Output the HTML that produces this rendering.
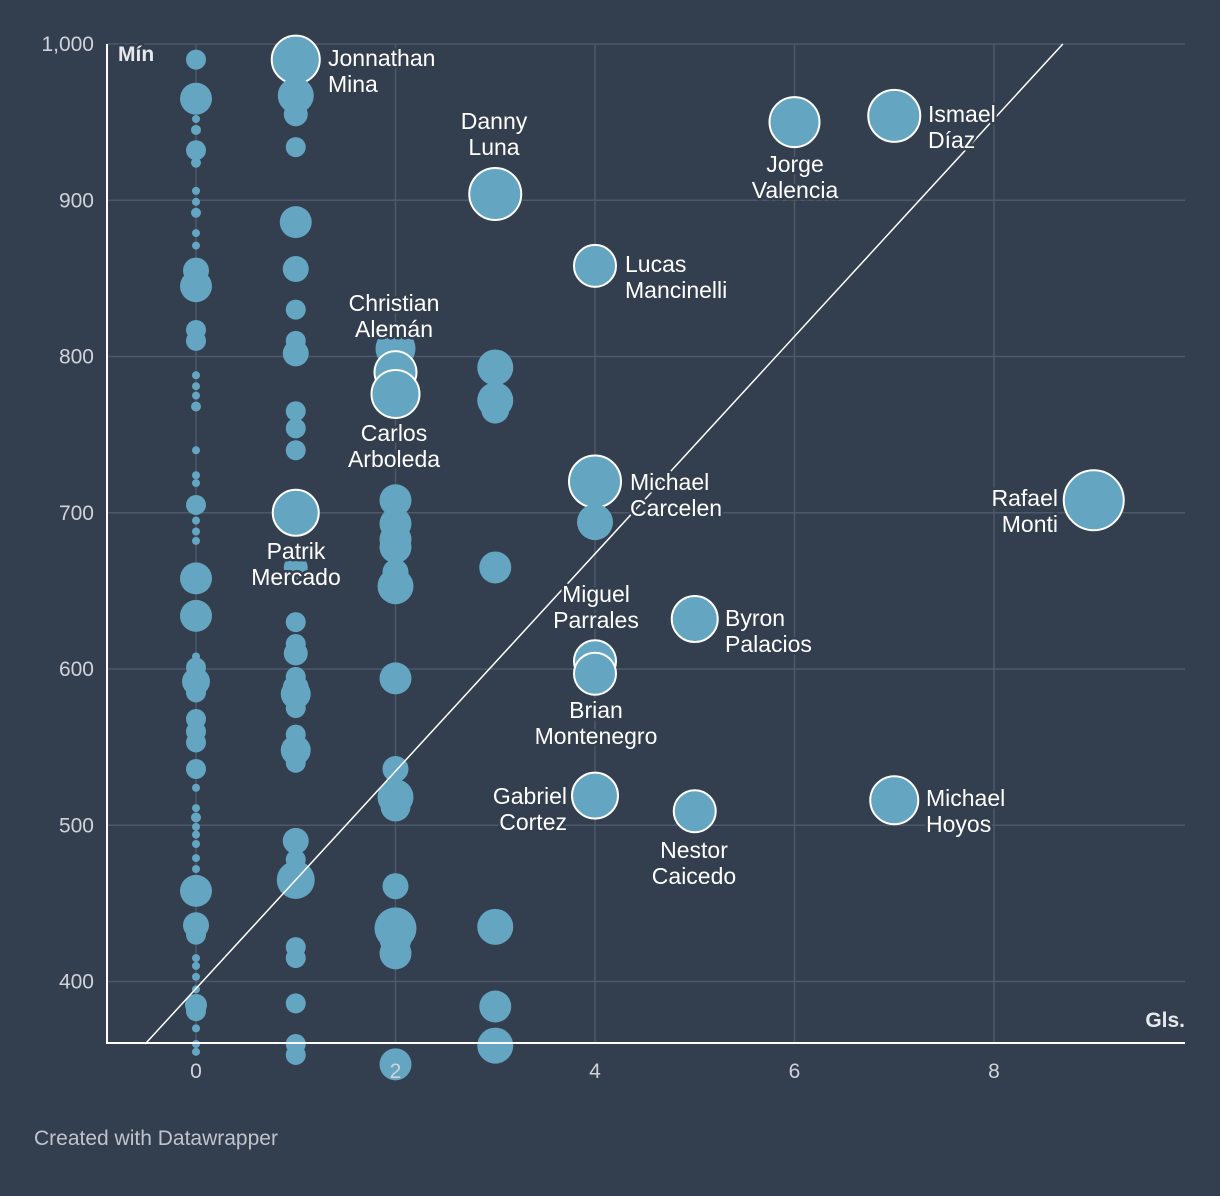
<!DOCTYPE html>
<html><head><meta charset="utf-8"><style>
body{margin:0;background:#333e4f;}
svg{display:block;font-family:"Liberation Sans",Arial,sans-serif;}
.lbl{fill:#fff;font-size:23px;paint-order:stroke;stroke:#333e4f;stroke-width:5px;stroke-linejoin:round;}
</style></head><body>
<svg id="chart" width="1220" height="1196">
<rect width="1220" height="1196" fill="#333e4f"/>
<g id="grid"></g><g id="marks"></g><g id="labels"></g>
<text x="34" y="1145" fill="#bfc4cc" font-size="21">Created with Datawrapper</text>
</svg>
<script>
const xs=[0,0,0,0,0,0,0,0,0,0,0,0,0,0,0,0,0,0,0,0,0,0,0,0,0,0,0,0,0,0,0,0,0,0,0,0,0,0,0,0,0,0,0,0,0,0,0,0,0,0,0,0,0,0,0,0,
1,1,1,1,1,1,1,1,1,1,1,1,1,1,1,1,1,1,1,1,1,1,1,1,1,1,1,1,1,1,1,1,1,
2,2,2,2,2,2,2,2,2,2,2,2,2,2,2,2,2,2,
3,3,3,3,3,3,3,3,
4,4,4,4,4,4,5,5,6,7,7,9];
const ys=[990,965,952,945,932,924,906,899,892,879,871,855,845,817,810,788,781,775,768,740,724,719,705,695,688,682,658,634,608,601,592,585,568,560,553,536,524,511,505,499,494,488,479,472,458,436,430,415,410,403,395,385,381,370,360,355,
990,967,955,934,886,856,830,810,802,765,754,740,708,700,665,630,616,610,595,588,584,575,558,548,540,490,478,465,422,415,386,360,353,
805,790,776,708,693,683,678,662,653,594,536,518,512,461,434,427,418,347,
904,793,772,766,665,435,384,359,
858,720,694,605,597,519,632,509,950,954,516,708];
const sizes=[10,16,4,5,10,5,4,4,5,4,4,13,16,10,10,4,4,4,5,4,4,4,10,4,4,4,16,16,4,10,14,10,10,10,10,10,4,4,5,4,4,4,4,4,16,13,10,4,4,4,4,11,10,4,4,4,
24,18,12,10,16,13,10,10,13,10,10,10,10,23,12,10,10,12,10,13,15,10,10,15,10,13,10,19,10,10,10,10,10,
20,21,24,16,16,16,16,13,18,16,13,18,15,13,21,16,16,16,
26,18,18,14,16,18,16,18,
21,26,18,21,21,23,23,21,25,26,24,30];
const outlined=[990,790,776,700,904,858,720,605,597,519,632,509,950,954,516,708];
const yTicks=[1000,900,800,700,600,500,400];
const yTickLabels=["1,000","900","800","700","600","500","400"];
const xTicks=[0,2,4,6,8];
const X=v=>196+(v)*99.75, Y=v=>44+(1000-v)*1.5625;
const NS="http://www.w3.org/2000/svg";
function mk(t,a,p){const e=document.createElementNS(NS,t);for(const k in a)e.setAttribute(k,a[k]);p.appendChild(e);return e;}
const g=document.getElementById('grid');
const L=document.getElementById('labels');
yTicks.forEach((t,i)=>{
 const l=mk('line',{x1:107,x2:1185,y1:Y(t),y2:Y(t),stroke:'#4d5869','stroke-width':1.5},g);
 
 
 const tx=mk('text',{x:94,y:Y(t)+7,'text-anchor':'end',fill:'#cfd3d9','font-size':21},g);
 tx.textContent=yTickLabels[i];
 
 
});
xTicks.forEach(t=>{
 const l=mk('line',{x1:X(t),x2:X(t),y1:44,y2:1043,stroke:'#4d5869','stroke-width':1.5},g);
 
 
 const tx=mk('text',{x:X(t),y:1078,'text-anchor':'middle',fill:'#cfd3d9','font-size':21},L);
 tx.textContent=t;
 
 
});
const m=document.getElementById('marks');
for(let i=0;i<xs.length;i++){
 const ol=outlined.includes(ys[i])&&sizes[i]>=20;
 const c=mk('circle',{cx:X(xs[i]),cy:Y(ys[i]),r:sizes[i],fill:'#64a5c1',stroke:ol?'#fff':'none','stroke-width':2},m);
 
 
}
const lineX1=-0.51,lineY1=360,lineX2=8.69,lineY2=1000;
const dl=mk('line',{x1:X(lineX1),y1:Y(lineY1),x2:X(lineX2),y2:Y(lineY2),stroke:'#fff','stroke-width':1.5},m);


const ax=mk('path',{d:'M107 44V1043H1185',fill:'none',stroke:'#fff','stroke-width':2},m);


const labs=[["Jonnathan|Mina",328,66,"start"],["Danny|Luna",494,129,"middle"],["Jorge|Valencia",795,172,"middle"],["Ismael|Díaz",928,122,"start"],["Lucas|Mancinelli",625,272,"start"],["Christian|Alemán",394,311,"middle"],["Carlos|Arboleda",394,441,"middle"],["Patrik|Mercado",296,559,"middle"],["Michael|Carcelen",630,490,"start"],["Rafael|Monti",1058,506,"end"],["Miguel|Parrales",596,602,"middle"],["Byron|Palacios",725,626,"start"],["Brian|Montenegro",596,718,"middle"],["Gabriel|Cortez",567,804,"end"],["Nestor|Caicedo",694,858,"middle"],["Michael|Hoyos",926,806,"start"]];
labs.forEach(l=>{
 const t=mk('text',{class:'lbl',x:l[1],y:l[2],'text-anchor':l[3]},L);
 
 
 l[0].split('|').forEach((s,i)=>{const sp=mk('tspan',{x:l[1],dy:i?26:0},t);sp.textContent=s;});
});
const a1=mk('text',{x:118,y:61,'font-size':20,'font-weight':'bold',class:'lbl'},L);a1.textContent='Mín';


const a2=mk('text',{x:1185,y:1027,'font-size':20,'font-weight':'bold','text-anchor':'end',class:'lbl'},L);a2.textContent='Gls.';


a1.style.fill='#e6e8eb';a2.style.fill='#e6e8eb';a1.style.fontSize='21px';a2.style.fontSize='21px';
</script>
</body></html>
